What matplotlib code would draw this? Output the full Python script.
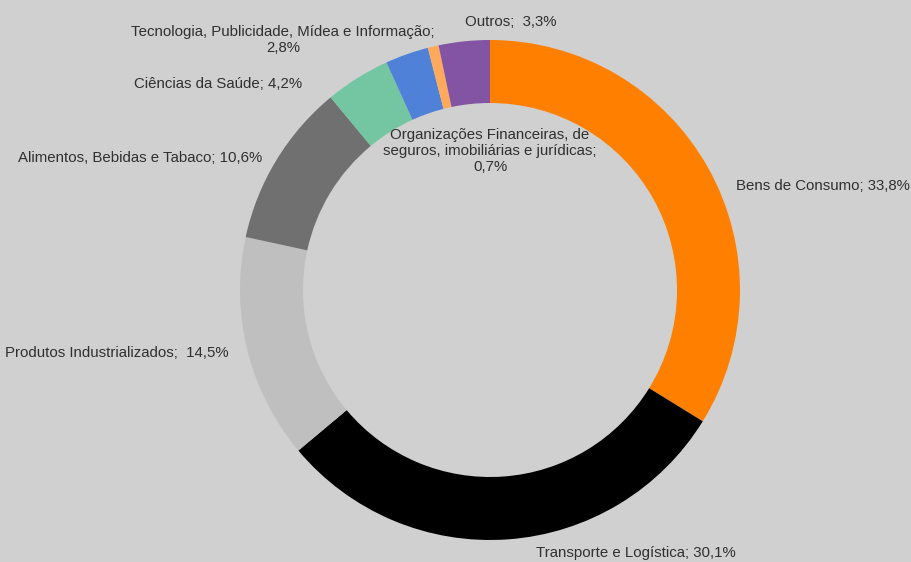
import matplotlib.pyplot as plt

# Participação por setor (%)
setores = [
    'Bens de Consumo',
    'Transporte e Logística',
    'Produtos Industrializados',
    'Alimentos, Bebidas e Tabaco',
    'Ciências da Saúde',
    'Tecnologia, Publicidade, Mídea e Informação',
    'Organizações Financeiras, de seguros, imobiliárias e jurídicas',
    'Outros',
]
valores = [33.8, 30.1, 14.5, 10.6, 4.2, 2.8, 0.7, 3.3]
cores = ['#FF7F00', '#000000', '#BFBFBF', '#707070',
         '#73C6A1', '#4F81D9', '#FFA95C', '#8454A4']

# texto de cada rótulo (com quebras de linha)
rotulos = [
    'Bens de Consumo; {v}',
    'Transporte e Logística; {v}',
    'Produtos Industrializados;  {v}',
    'Alimentos, Bebidas e Tabaco; {v}',
    'Ciências da Saúde; {v}',
    'Tecnologia, Publicidade, Mídea e Informação;\n{v}',
    'Organizações Financeiras, de\nseguros, imobiliárias e jurídicas;\n{v}',
    'Outros;  {v}',
]
# posição (em unidades do raio) e alinhamento de cada rótulo
pos_rotulos = [(0.984, 0.416, 'left'), (0.584, -1.052, 'center'),
               (-1.044, -0.252, 'right'), (-0.912, 0.528, 'right'),
               (-0.752, 0.824, 'right'), (-0.828, 1.0, 'center'),
               (0.0, 0.556, 'center'), (0.084, 1.072, 'center')]


def fmt(v):
    return f'{v:.1f}%'.replace('.', ',')


W, H = 911, 562
fig = plt.figure(figsize=(W / 100, H / 100), dpi=100)
fig.patch.set_facecolor('#D0D0D0')

cx, cy, r = 490, 290, 250
ax = fig.add_axes([(cx - r) / W, (H - cy - r) / H, 2 * r / W, 2 * r / H])
ax.set_facecolor('none')

ax.pie(valores, colors=cores, startangle=90, counterclock=False, radius=1.0,
       wedgeprops=dict(width=0.252, linewidth=0))

for txt, v, (x, y, ha) in zip(rotulos, valores, pos_rotulos):
    ax.text(x, y, txt.format(v=fmt(v)), ha=ha, va='center', fontsize=10.8,
            color='#303030', family='Liberation Sans', linespacing=1.22)

ax.set_xlim(-1, 1)
ax.set_ylim(-1, 1)
ax.set_aspect('equal')
ax.axis('off')

fig.savefig('out.png', dpi=100, facecolor=fig.get_facecolor())
